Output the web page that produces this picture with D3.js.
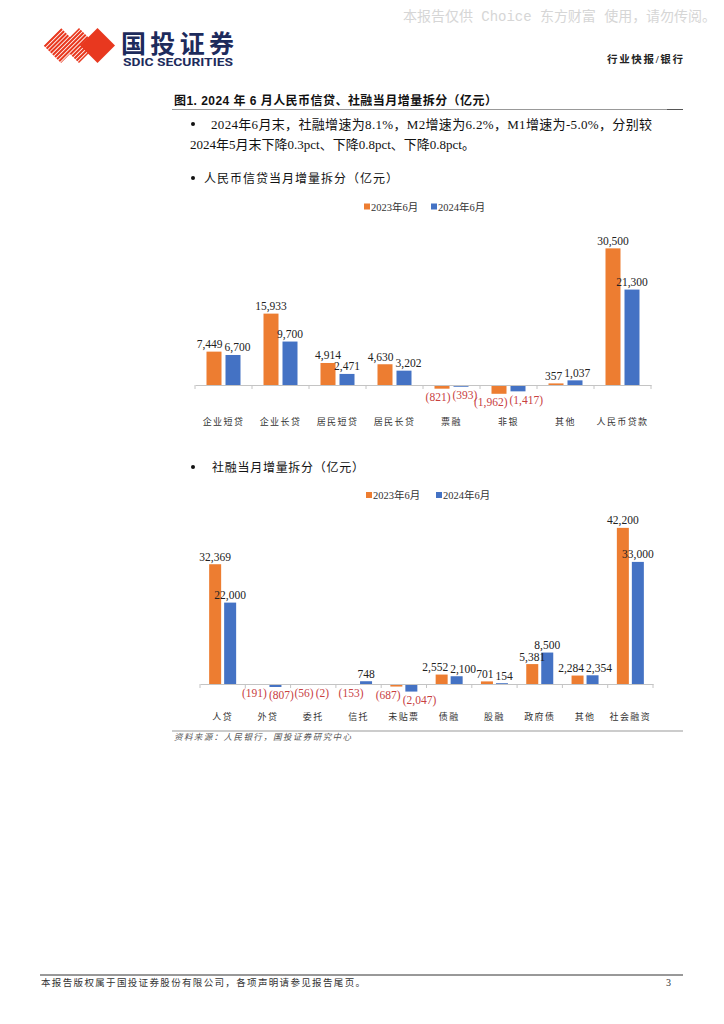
<!DOCTYPE html>
<html><head><meta charset="utf-8">
<script src="https://cdn.jsdelivr.net/npm/d3@7/dist/d3.min.js"></script>
<style>body{margin:0;background:#fff}svg{display:block}</style>
</head><body>
<svg id="page" width="724" height="1024"></svg>
<script>
// ---------- data ----------
const seriesNames = ["2023年6月", "2024年6月"];
const creditCategories = ["企业短贷", "企业长贷", "居民短贷", "居民长贷", "票融", "非银", "其他", "人民币贷款"];
const credit2023 = [7449, 15933, 4914, 4630, -821, -1962, 357, 30500];
const credit2024 = [6700, 9700, 2471, 3202, -393, -1417, 1037, 21300];
const tsfCategories = ["人贷", "外贷", "委托", "信托", "未贴票", "债融", "股融", "政府债", "其他", "社会融资"];
const tsf2023 = [32369, -191, -56, -153, -687, 2552, 701, 5381, 2284, 42200];
const tsf2024 = [22000, -807, -2, 748, -2047, 2100, 154, 8500, 2354, 33000];

// ---------- styles ----------
const COLORS = ["#ED7D31", "#4472C4"];
const NEG = "#c8413f";
const SERIF = "'Liberation Serif','Times New Roman','Noto Sans CJK SC',serif";
const CJK = "'Liberation Serif','Noto Sans CJK SC',sans-serif";

const svg = d3.select("#page");

// ---------- header ----------
svg.append("text").attr("x", 403).attr("y", 21)
  .attr("font-family", "'Liberation Mono','Noto Sans CJK SC',monospace").attr("font-size", 14)
  .attr("fill", "#d6d6d6").attr("textLength", 313).attr("lengthAdjust", "spacing")
  .text("本报告仅供 Choice 东方财富 使用，请勿传阅。");

// logo
const defs = svg.append("defs");
const diamond = (cx, cy, r) => `M${cx},${cy - r}L${cx + r},${cy}L${cx},${cy + r}L${cx - r},${cy}Z`;
const clip = defs.append("clipPath").attr("id", "stripeClip");
clip.append("path").attr("d", diamond(61, 45.5, 17.5));
clip.append("path").attr("d", diamond(79, 45.5, 17.5));
const stripes = svg.append("g").attr("clip-path", "url(#stripeClip)");
d3.range(-20, 80, 4.2).forEach(o => {
  stripes.append("line").attr("x1", 20 + o).attr("y1", 70).attr("x2", 20 + o + 45).attr("y2", 25)
    .attr("stroke", "#e8381f").attr("stroke-width", 2.1);
});
svg.append("path").attr("d", diamond(97.5, 45.5, 17.5)).attr("fill", "#e8381f");

svg.append("text").attr("x", 121).attr("y", 52.5)
  .attr("font-family", "'Noto Sans CJK SC',sans-serif").attr("font-weight", 700).attr("font-size", 25)
  .attr("fill", "#1d2b5c").attr("textLength", 113).attr("lengthAdjust", "spacing").text("国投证券");
svg.append("text").attr("x", 123).attr("y", 66)
  .attr("font-family", "'Roboto','DejaVu Sans',sans-serif").attr("font-weight", 700).attr("font-size", 10)
  .attr("fill", "#1d2b5c").attr("textLength", 110).attr("lengthAdjust", "spacingAndGlyphs").text("SDIC SECURITIES");

svg.append("text").attr("x", 607).attr("y", 63)
  .attr("font-family", CJK).attr("font-weight", 700).attr("font-size", 10.5)
  .attr("fill", "#222").attr("textLength", 76).attr("lengthAdjust", "spacing").text("行业快报/银行");

// title
svg.append("text").attr("x", 174).attr("y", 105)
  .attr("font-family", "'Liberation Sans','Noto Sans CJK SC',sans-serif").attr("font-weight", 700).attr("font-size", 12)
  .attr("fill", "#111").attr("textLength", 323).attr("lengthAdjust", "spacing")
  .text("图1. 2024 年 6 月人民币信贷、社融当月增量拆分（亿元）");
svg.append("line").attr("x1", 172).attr("x2", 683).attr("y1", 109.5).attr("y2", 109.5).attr("stroke", "#999").attr("stroke-width", 1);
svg.append("line").attr("x1", 667).attr("x2", 683).attr("y1", 109.5).attr("y2", 109.5).attr("stroke", "#555").attr("stroke-width", 1);

// bullets
function bullet(x, y) {
  svg.append("circle").attr("cx", x).attr("cy", y).attr("r", 2).attr("fill", "#111");
}
bullet(193, 124);
svg.append("text").attr("x", 211).attr("y", 129).attr("font-family", CJK).attr("font-size", 13)
  .attr("fill", "#111").attr("textLength", 441).attr("lengthAdjust", "spacing")
  .text("2024年6月末，社融增速为8.1%，M2增速为6.2%，M1增速为-5.0%，分别较");
svg.append("text").attr("x", 190).attr("y", 149).attr("font-family", CJK).attr("font-size", 13)
  .attr("fill", "#111")
  .text("2024年5月末下降0.3pct、下降0.8pct、下降0.8pct。");

bullet(193, 178);
svg.append("text").attr("x", 204).attr("y", 183).attr("font-family", CJK).attr("font-size", 12)
  .attr("fill", "#111").attr("textLength", 194).attr("lengthAdjust", "spacing")
  .text("人民币信贷当月增量拆分（亿元）");

bullet(193, 467);
svg.append("text").attr("x", 212).attr("y", 472).attr("font-family", CJK).attr("font-size", 12)
  .attr("fill", "#111").attr("textLength", 152).attr("lengthAdjust", "spacing")
  .text("社融当月增量拆分（亿元）");

// ---------- charts ----------
const fmt = v => v < 0 ? "(" + d3.format(",")(-v) + ")" : d3.format(",")(v);

function legend(y, xs) {
  const g = svg.append("g");
  seriesNames.forEach((s, i) => {
    g.append("rect").attr("x", xs[i]).attr("y", y - 3.5).attr("width", 6).attr("height", 6).attr("fill", COLORS[i]);
    g.append("text").attr("x", xs[i] + 7).attr("y", y + 3.5).attr("font-family", SERIF).attr("font-size", 10.5)
      .attr("fill", "#333").text(s);
  });
}

function barChart(cfg) {
  const g = svg.append("g");
  const x = d3.scaleBand().domain(cfg.categories).range([cfg.x0, cfg.x1]).padding(0);
  const step = cfg.barW + cfg.gap;
  const inner = (x.bandwidth() - step * 2 + cfg.gap) / 2;
  const x1 = d3.scaleBand().domain(seriesNames).range([inner, x.bandwidth() - inner])
    .paddingInner(cfg.gap / step).paddingOuter(0);
  const y = d3.scaleLinear().domain(cfg.domain).range(cfg.range);
  const rows = cfg.categories.map((c, i) => ({ c, vals: [cfg.s1[i], cfg.s2[i]] }));

  rows.forEach(r => {
    r.vals.forEach((v, j) => {
      const bx = x(r.c) + x1(seriesNames[j]);
      const dy = Math.abs(y(v) - y(0));
      const h = Math.max(dy, 0.8);
      g.append("rect").attr("x", bx).attr("y", v < 0 ? y(0) : y(0) - h)
        .attr("width", x1.bandwidth()).attr("height", h).attr("fill", COLORS[j]);
    });
  });

  // axis
  const axis = d3.axisBottom(x).tickSize(0).tickFormat("");
  const ag = g.append("g").attr("transform", `translate(0,${y(0)})`).call(axis);
  ag.select(".domain").attr("stroke", "#c4c4c4").attr("stroke-width", 1);
  const bounds = cfg.categories.map(c => x(c)).concat([cfg.x1]);
  bounds.forEach(b => {
    g.append("line").attr("x1", b).attr("x2", b).attr("y1", y(0)).attr("y2", y(0) + 4)
      .attr("stroke", "#c4c4c4").attr("stroke-width", 1);
  });

  // value labels, pushed apart when the pair collides (as in the source)
  const fs = 11.5, gap = 2;
  rows.forEach(r => {
    const labs = r.vals.map((v, j) => {
      const cx = x(r.c) + x1(seriesNames[j]) + x1.bandwidth() / 2;
      const ly = v < 0 ? y(v) + 12.5 : y(v) - 3.5;
      const t = g.append("text").attr("x", cx).attr("y", ly)
        .attr("text-anchor", "middle").attr("font-family", SERIF).attr("font-size", fs)
        .attr("fill", v < 0 ? NEG : "#222").text(fmt(v));
      return { t, cx, ly, w: t.node().getComputedTextLength() };
    });
    const [a, b] = labs;
    if (Math.abs(a.ly - b.ly) < fs - 1) {
      const overlap = (a.cx + a.w / 2) - (b.cx - b.w / 2) + gap;
      if (overlap > 0) {
        a.t.attr("x", a.cx - overlap / 2);
        b.t.attr("x", b.cx + overlap / 2);
      }
    }
  });

  cfg.categories.forEach(c => {
    g.append("text").attr("x", x(c) + x.bandwidth() / 2).attr("y", cfg.catY)
      .attr("text-anchor", "middle").attr("font-family", CJK).attr("font-size", 9)
      .attr("letter-spacing", 1.4).attr("fill", "#333").text(c);
  });
}

legend(207, [364, 431]);
barChart({
  categories: creditCategories, s1: credit2023, s2: credit2024,
  x0: 195, x1: 651, barW: 15, gap: 4,
  domain: [-5000, 35000], range: [385 + 5000 * 0.00448, 385 - 35000 * 0.00448],
  catY: 425
});

legend(495.5, [366, 436]);
barChart({
  categories: tsfCategories, s1: tsf2023, s2: tsf2024,
  x0: 200, x1: 653, barW: 12, gap: 3,
  domain: [-5000, 45000], range: [684 + 5000 * 0.0037, 684 - 45000 * 0.0037],
  catY: 720
});

// source
svg.append("line").attr("x1", 172).attr("x2", 683).attr("y1", 731).attr("y2", 731).attr("stroke", "#999").attr("stroke-width", 1);
svg.append("text").attr("x", 174).attr("y", 740).attr("font-family", CJK).attr("font-size", 8.5)
  .attr("font-style", "italic").attr("fill", "#555").attr("textLength", 177).attr("lengthAdjust", "spacing")
  .text("资料来源：人民银行，国投证券研究中心");

// footer
svg.append("line").attr("x1", 40).attr("x2", 683).attr("y1", 975).attr("y2", 975).attr("stroke", "#333").attr("stroke-width", 1);
svg.append("text").attr("x", 41).attr("y", 986).attr("font-family", CJK).attr("font-size", 9.5)
  .attr("fill", "#333").attr("textLength", 324).attr("lengthAdjust", "spacing")
  .text("本报告版权属于国投证券股份有限公司，各项声明请参见报告尾页。");
svg.append("text").attr("x", 666).attr("y", 986).attr("font-family", SERIF).attr("font-size", 10)
  .attr("fill", "#333").text("3");
</script>
</body></html>
